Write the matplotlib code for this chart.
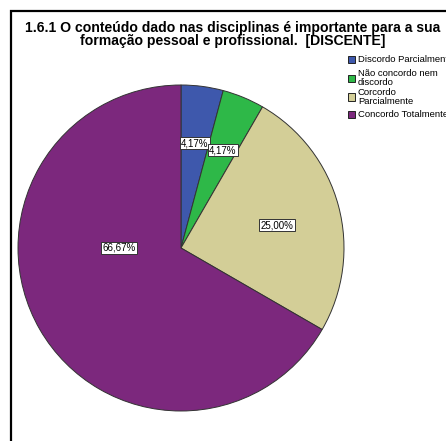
import matplotlib
matplotlib.use("Agg")
import matplotlib.pyplot as plt
from matplotlib.patches import Rectangle

plt.rcParams['font.family'] = ['Liberation Sans', 'DejaVu Sans']

title = ("1.6.1 O conteúdo dado nas disciplinas é importante para a sua\n"
         "formação pessoal e profissional.  [DISCENTE]")
categories = ["Discordo Parcialmente", "Não concordo nem\ndiscordo",
              "Corcordo\nParcialmente", "Concordo Totalmente"]
percents = [4.17, 4.17, 25.00, 66.67]
colors = ["#3E58AC", "#2EB848", "#D3CE97", "#7C287D"]
# where each percentage box sits, in pie radius units
label_pos = [(0.086, 0.644), (0.258, 0.601), (0.589, 0.141), (-0.38, 0.0)]
# vertical centre of each legend entry, pixels from the top
legend_y = [59, 78, 97, 114]

W, H = 446, 441
fig = plt.figure(figsize=(W / 100, H / 100), dpi=100)
fig.patch.set_facecolor('white')

# outer frame, open to the right and bottom
fig.patches.append(Rectangle((11 / W, -0.1), 1.0, 1.1 - 11 / H,
                             transform=fig.transFigure, fill=False,
                             edgecolor='black', linewidth=1.6))

fig.text(233 / W, 1 - 21 / H, title, ha='center', va='top',
         fontsize=10.1, fontweight='bold', linespacing=0.9)

cx, cy, r = 181, 248, 163
ax = fig.add_axes([(cx - r) / W, (H - cy - r) / H, 2 * r / W, 2 * r / H])
wedges, _ = ax.pie(percents, colors=colors, startangle=90, counterclock=False,
                   wedgeprops=dict(edgecolor='#333333', linewidth=0.7))
ax.set_xlim(-1, 1)
ax.set_ylim(-1, 1)
ax.set_aspect('auto')

for p, (x, y) in zip(percents, label_pos):
    ax.text(x, y, f"{p:.2f}%".replace('.', ','), ha='center', va='center',
            fontsize=7, zorder=5,
            bbox=dict(boxstyle='square,pad=0.15', facecolor='white',
                      edgecolor='#333333', linewidth=0.7))

# legend drawn by hand so the two-line entries stay tight
for w, lab, y in zip(wedges, categories, legend_y):
    fig.patches.append(Rectangle((348 / W, 1 - (y + 3.5) / H), 7 / W, 7 / H,
                                 transform=fig.transFigure,
                                 facecolor=w.get_facecolor(),
                                 edgecolor='#222222', linewidth=0.7))
    fig.text(358 / W, 1 - y / H, lab, ha='left', va='center',
             fontsize=6.8, linespacing=1.0)

fig.savefig("out.png", dpi=100)
